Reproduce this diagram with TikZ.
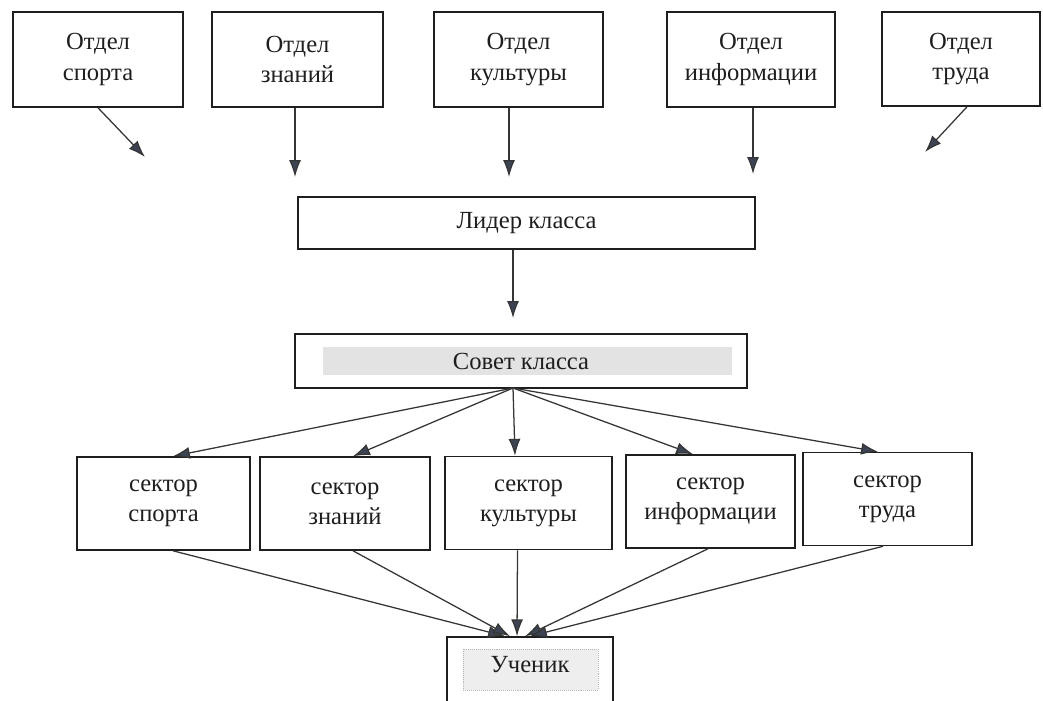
\documentclass[tikz,border=0pt]{standalone}
\usepackage{fontspec}
\setmainfont{Liberation Serif}
\usetikzlibrary{arrows.meta}
\definecolor{ink}{HTML}{1E1E1E}
\definecolor{tipc}{HTML}{3C4454}
\begin{document}
\begin{tikzpicture}[x=0.025cm,y=-0.025cm,
  box/.style={draw=ink,line width=1.1pt,rectangle,inner sep=0pt,align=center,
    font=\fontsize{17.5}{21.5}\selectfont,text=ink},
  arr/.style={draw=ink!90,line width=0.9pt,-{Latex[length=12pt,width=8.5pt,fill=tipc]}}]
\useasboundingbox (0,0) rectangle (1043,700);
% top departments
\node[box,minimum width=170*0.025cm,minimum height=95*0.025cm] (a1) at (98,59.5) {Отдел\\спорта};
\node[box,minimum width=171*0.025cm,minimum height=95*0.025cm] (a2) at (297.5,59.5) {Отдел\\знаний};
\node[box,minimum width=169*0.025cm,minimum height=95*0.025cm] (a3) at (518.5,59.5) {Отдел\\культуры};
\node[box,minimum width=168*0.025cm,minimum height=95*0.025cm] (a4) at (751,59.5) {Отдел\\информации};
\node[box,minimum width=158*0.025cm,minimum height=94*0.025cm] (a5) at (961,59) {Отдел\\труда};
% leader
\node[box,minimum width=457*0.025cm,minimum height=52*0.025cm] (lid) at (526.5,223) {Лидер класса};
% council
\fill[gray!22] (323,347) rectangle (732,375);
\node[box,minimum width=452*0.025cm,minimum height=54*0.025cm] (sov) at (521,361) {Совет класса};
% sectors
\node[box,minimum width=173*0.025cm,minimum height=93*0.025cm] (s1) at (163.5,503.5) {сектор\\спорта};
\node[box,minimum width=170*0.025cm,minimum height=93*0.025cm] (s2) at (345,503.5) {сектор\\знаний};
\node[box,minimum width=167*0.025cm,minimum height=93*0.025cm] (s3) at (528.5,503) {сектор\\культуры};
\node[box,minimum width=169*0.025cm,minimum height=93*0.025cm] (s4) at (710.5,501.5) {сектор\\информации};
\node[box,minimum width=169*0.025cm,minimum height=93*0.025cm] (s5) at (887.5,499) {сектор\\труда};
% pupil
\fill[gray!13] (463,649) rectangle (598,690);
\draw[gray!55,densely dotted] (463,649) rectangle (598,690);
\node[box,minimum width=166*0.025cm,minimum height=76*0.025cm,text depth=0pt] (uch) at (530,675) {};
\node[font=\fontsize{17.5}{21.5}\selectfont,text=ink] (uchtext) at (530,665) {Ученик};
% free ends
\coordinate (t1) at (145,157);
\coordinate (t2) at (295,177);
\coordinate (t3) at (509,177);
\coordinate (t4) at (753,174);
\coordinate (t5) at (925,152);
\coordinate (t0) at (513,318);
% top arrows
\draw[arr] (a1.south) -- (t1);
\draw[arr] (a2.south -| t2) -- (t2);
\draw[arr] (a3.south -| t3) -- (t3);
\draw[arr] (a4.south -| t4) -- (t4);
\draw[arr] ([xshift=6*0.025cm]a5.south) -- (t5);
\draw[arr] (lid.south -| t0) -- (t0);
% council to sectors
\coordinate (sb) at (513,388);
\draw[arr] (sb) -- ([xshift=9.5*0.025cm]s1.north);
\draw[arr] (sb) -- ([xshift=8*0.025cm]s2.north);
\draw[arr] (sb) -- ([xshift=-13.5*0.025cm]s3.north);
\draw[arr] (sb) -- ([xshift=-17.5*0.025cm]s4.north);
\draw[arr] (sb) -- ([xshift=-9.5*0.025cm]s5.north);
% sectors to pupil
\draw[arr] ([xshift=9.5*0.025cm]s1.south) -- ([xshift=-25*0.025cm]uch.north);
\draw[arr] ([xshift=8*0.025cm]s2.south) -- ([xshift=-20*0.025cm]uch.north);
\draw[arr] ([xshift=-11*0.025cm]s3.south) -- ([xshift=-13*0.025cm]uch.north);
\draw[arr] ([xshift=-2.5*0.025cm]s4.south) -- ([xshift=-5*0.025cm]uch.north);
\draw[arr] ([xshift=-4.5*0.025cm]s5.south) -- ([xshift=0*0.025cm]uch.north);
\end{tikzpicture}
\end{document}
